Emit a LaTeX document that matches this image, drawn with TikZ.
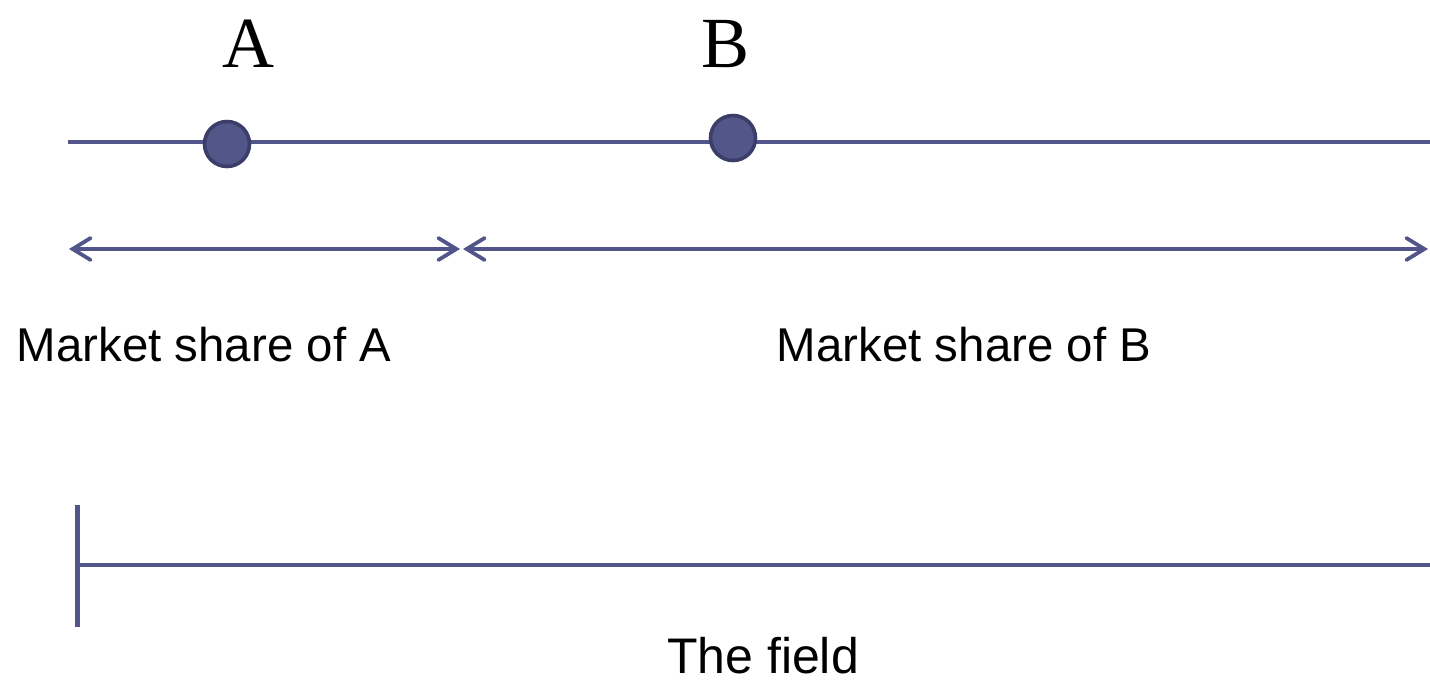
\documentclass[tikz,border=0pt]{standalone}
\usepackage{fontspec}
\setmainfont{Liberation Sans}
\newfontfamily\serifA{Liberation Serif}
\usetikzlibrary{arrows.meta}
\definecolor{ln}{HTML}{52558A}
\definecolor{dotfill}{HTML}{535689}
\definecolor{dotedge}{HTML}{3C3E6A}
\begin{document}
\begin{tikzpicture}[x=0.5pt,y=-0.5pt,
  axis/.style={draw=ln,line width=2.3pt},
  share/.style={draw=ln,line width=1.9pt,{Straight Barb[length=9pt,width=11pt,line cap=round]}-{Straight Barb[length=9pt,width=11pt,line cap=round]}},
  firm/.style={circle,fill=dotfill,draw=dotedge,line width=1.8pt,minimum size=22.5pt,inner sep=0pt},
  firmlabel/.style={font=\serifA\fontsize{36pt}{36pt}\selectfont,anchor=base,inner sep=0pt},
  lbl/.style={font=\fontsize{23.7pt}{24pt}\selectfont,anchor=base,inner sep=0pt}]
\useasboundingbox (0,0) rectangle (1430,682);
% top line
\coordinate (L0) at (68,142);
\coordinate (L1) at (1430,142);
\draw[axis] (L0) -- (L1);
\node[firm] (dA) at (227,144) {};
\node[firm] (dB) at (733,138) {};
\node[firmlabel] (tA) at (248,67) {A};
\node[firmlabel] (tB) at (726,67) {B};
% share arrows
\coordinate (S0) at (69,249);
\coordinate (S1) at (460,249);
\coordinate (S2) at (463,249);
\coordinate (S3) at (1428,249);
\draw[share] (S0) -- (S1);
\draw[share] (S2) -- (S3);
\node[lbl] (mA) at (204,361) {Market share of A};
\node[lbl] (mB) at (964,361) {Market share of B};
% field
\coordinate (F0) at (77,505);
\coordinate (F1) at (77,627);
\coordinate (F2) at (77,565);
\coordinate (F3) at (1430,565);
\draw[axis,line width=2.5pt] (F0) -- (F1);
\draw[axis] (F2) -- (F3);
\node[lbl,font=\fontsize{25pt}{26pt}\selectfont] (fl) at (763,673) {The field};
\end{tikzpicture}
\end{document}
